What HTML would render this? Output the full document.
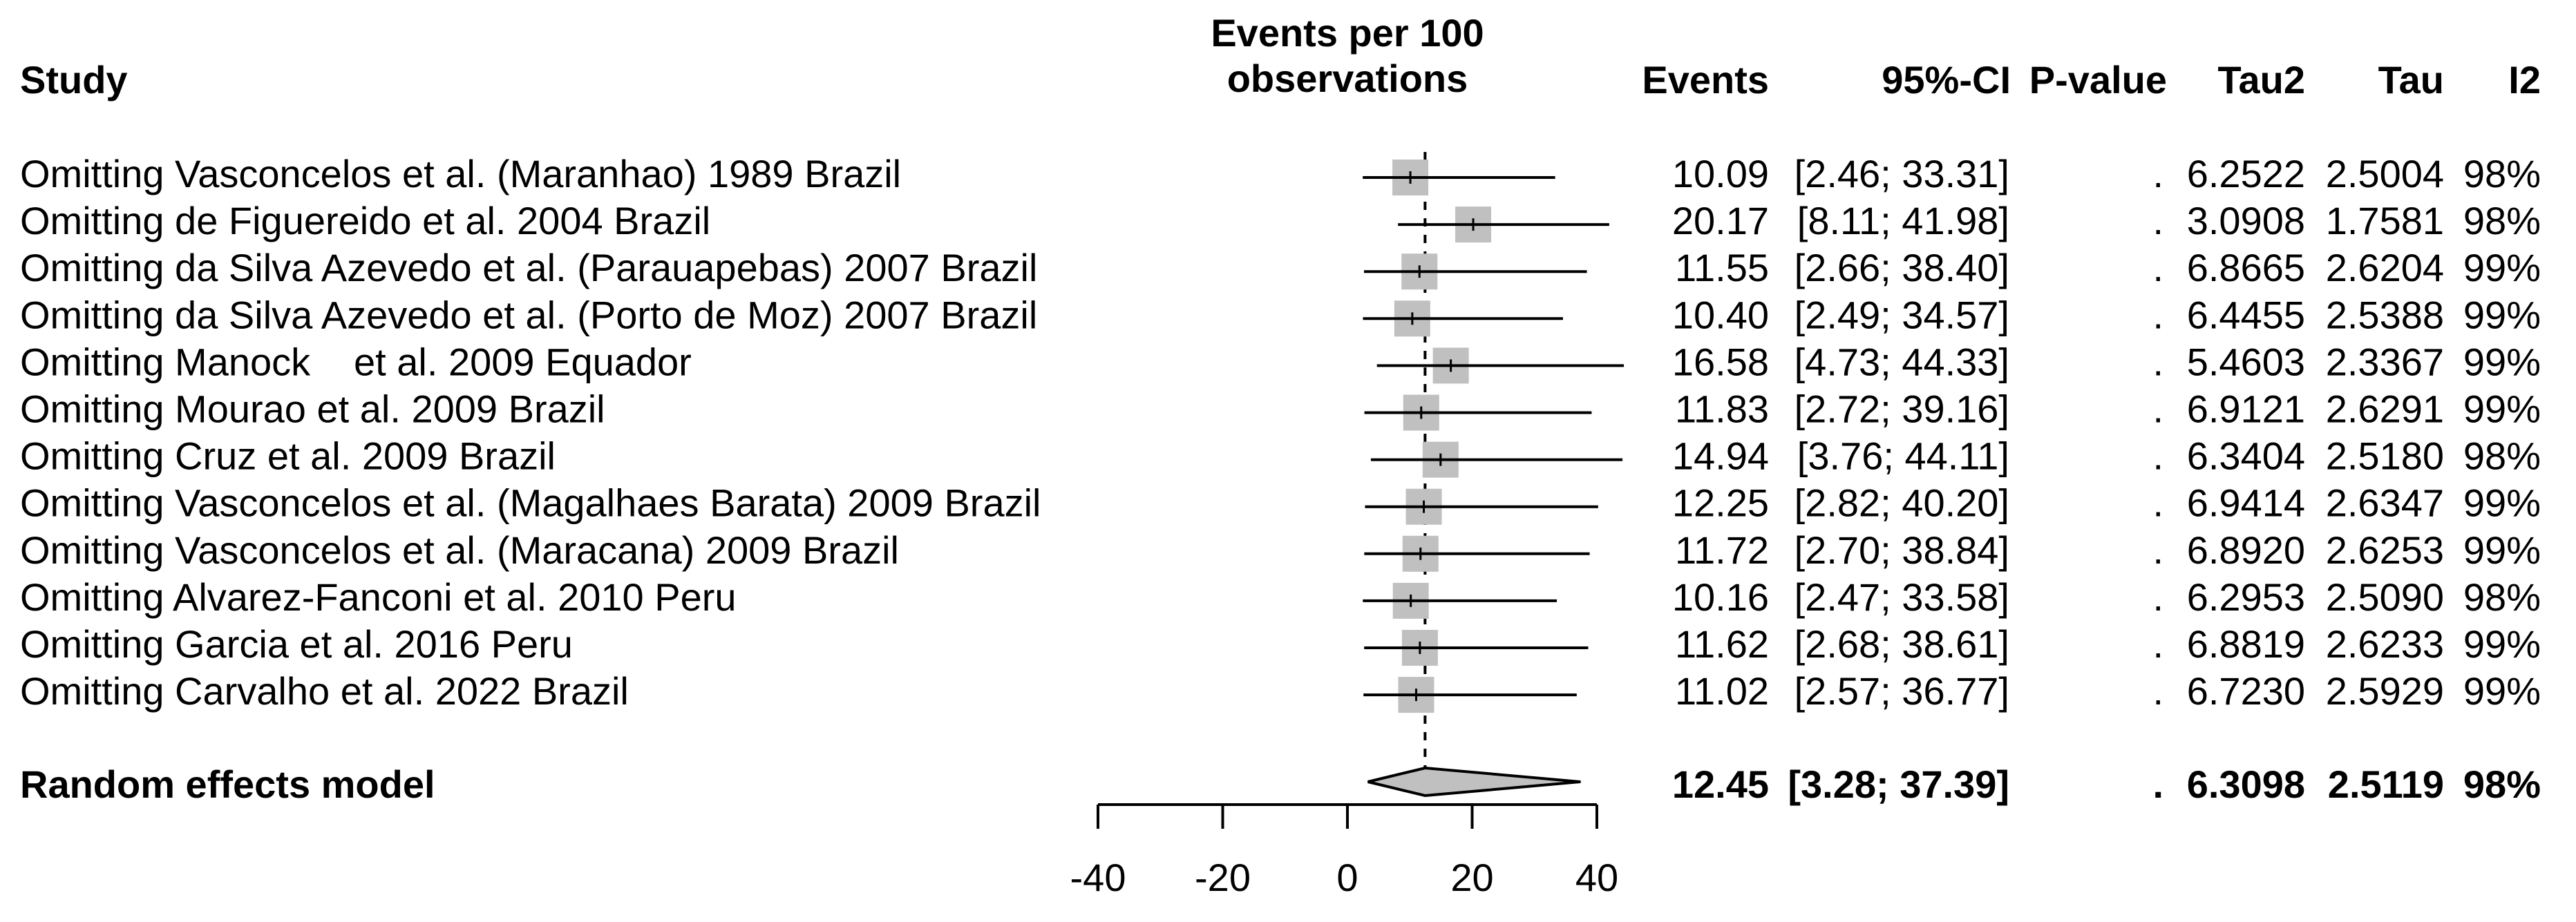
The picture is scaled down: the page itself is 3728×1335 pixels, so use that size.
<!DOCTYPE html>
<html><head><meta charset="utf-8"><style>
html,body{margin:0;padding:0;background:#fff;}
svg{display:block;}
text{font-family:"Liberation Sans",Arial,sans-serif;font-size:56px;fill:#000;}
.b{font-weight:bold;}
</style></head><body>
<svg id="chart" width="3728" height="1335" viewBox="0 0 3728 1335" xmlns="http://www.w3.org/2000/svg">
<g id="headers">
<text class="b" x="29" y="135">Study</text>
<text class="b" x="1950" y="67" text-anchor="middle">Events per 100</text>
<text class="b" x="1950" y="133" text-anchor="middle">observations</text>
<text class="b" x="2560" y="135" text-anchor="end">Events</text>
<text class="b" x="2910" y="135" text-anchor="end">95%-CI</text>
<text class="b" x="3136" y="135" text-anchor="end">P-value</text>
<text class="b" x="3336" y="135" text-anchor="end">Tau2</text>
<text class="b" x="3537" y="135" text-anchor="end">Tau</text>
<text class="b" x="3677" y="135" text-anchor="end">I2</text>
</g>
<g id="rows"></g>
<g id="plot"></g>
</svg>
<script>
const studies = [
"Omitting Vasconcelos et al. (Maranhao) 1989 Brazil",
"Omitting de Figuereido et al. 2004 Brazil",
"Omitting da Silva Azevedo et al. (Parauapebas) 2007 Brazil",
"Omitting da Silva Azevedo et al. (Porto de Moz) 2007 Brazil",
"Omitting Manock|et al. 2009 Equador",
"Omitting Mourao et al. 2009 Brazil",
"Omitting Cruz et al. 2009 Brazil",
"Omitting Vasconcelos et al. (Magalhaes Barata) 2009 Brazil",
"Omitting Vasconcelos et al. (Maracana) 2009 Brazil",
"Omitting Alvarez-Fanconi et al. 2010 Peru",
"Omitting Garcia et al. 2016 Peru",
"Omitting Carvalho et al. 2022 Brazil"];
const est = [10.09,20.17,11.55,10.40,16.58,11.83,14.94,12.25,11.72,10.16,11.62,11.02];
const lower = [2.46,8.11,2.66,2.49,4.73,2.72,3.76,2.82,2.70,2.47,2.68,2.57];
const upper = [33.31,41.98,38.40,34.57,44.33,39.16,44.11,40.20,38.84,33.58,38.61,36.77];
const tau2 = ["6.2522","3.0908","6.8665","6.4455","5.4603","6.9121","6.3404","6.9414","6.8920","6.2953","6.8819","6.7230"];
const tau = ["2.5004","1.7581","2.6204","2.5388","2.3367","2.6291","2.5180","2.6347","2.6253","2.5090","2.6233","2.5929"];
const i2 = ["98%","98%","99%","99%","99%","99%","98%","99%","99%","98%","99%","99%"];
const pooled = [12.45,3.28,37.39];
const pooledStats = ["6.3098","2.5119","98%"];
const ticks = [-40,-20,0,20,40];

const NS="http://www.w3.org/2000/svg";
const x = v => 1950 + v*9.025;
const rowY = i => 257 + i*68.1;
function mk(tag, attrs, parent, txt){const e=document.createElementNS(NS,tag);for(const k in attrs)e.setAttribute(k,attrs[k]);if(txt!==undefined)e.textContent=txt;parent.appendChild(e);return e;}
const rows=document.getElementById('rows'), plot=document.getElementById('plot');
const f2 = v => v.toFixed(2);

// dashed pooled line
let dl=mk('line',{x1:x(pooled[0]),x2:x(pooled[0]),y1:220,y2:1112,stroke:'#000','stroke-width':4,'stroke-dasharray':'12,12'},plot);



studies.forEach((s,i)=>{
  const yc=rowY(i), yb=yc+14;
  const parts=s.split('|');
  let t=mk('text',{x:29,y:yb},rows,parts[0]);
  
  
  if(parts[1]){let t2=mk('text',{x:512,y:yb},rows,parts[1]);
    
    }
  const vals=[[f2(est[i]),2560],["["+f2(lower[i])+"; "+f2(upper[i])+"]",2908],[".",3131],[tau2[i],3336],[tau[i],3537],[i2[i],3677]];
  vals.forEach(v=>{let c=mk('text',{x:v[1],y:yb,'text-anchor':'end'},rows,v[0]);
    
    });
  let b=mk('rect',{x:x(est[i])-26,y:yc-26,width:52,height:52,fill:'#c0c0c0'},plot);
  
  
  let l=mk('line',{x1:x(lower[i]),x2:x(upper[i]),y1:yc,y2:yc,stroke:'#000','stroke-width':4},plot);
  
  
  let m=mk('line',{x1:x(est[i]),x2:x(est[i]),y1:yc-9,y2:yc+9,stroke:'#000','stroke-width':3},plot);
  
  
});

// pooled row
const py=1132, pb=1155;
let pl=mk('text',{x:29,y:pb,'class':'b'},rows,"Random effects model");


[[f2(pooled[0]),2560],["["+f2(pooled[1])+"; "+f2(pooled[2])+"]",2908],[".",3131],[pooledStats[0],3336],[pooledStats[1],3537],[pooledStats[2],3677]].forEach(v=>{
  let c=mk('text',{x:v[1],y:pb,'text-anchor':'end','class':'b'},rows,v[0]);
  
  });
let d=mk('polygon',{points:`${x(pooled[1])},${py} ${x(pooled[0])},${py-20} ${x(pooled[2])},${py} ${x(pooled[0])},${py+20}`,fill:'#c0c0c0',stroke:'#000','stroke-width':4},plot);



// axis
let ax=mk('line',{x1:x(ticks[0]),x2:x(ticks[ticks.length-1]),y1:1165,y2:1165,stroke:'#000','stroke-width':4},plot);


ticks.forEach(t=>{
  let tk=mk('line',{x1:x(t),x2:x(t),y1:1165,y2:1200,stroke:'#000','stroke-width':4},plot);
  
  
  let tl=mk('text',{x:x(t),y:1290,'text-anchor':'middle'},plot,String(t));
  
  
});
</script>
</body></html>
